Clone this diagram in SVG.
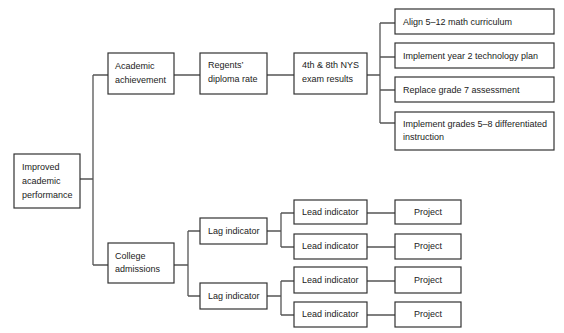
<svg xmlns="http://www.w3.org/2000/svg" width="564" height="333" viewBox="0 0 564 333">
<style>
.box{fill:#fff;stroke:#333;stroke-width:1.2}
.ln{fill:none;stroke:#555;stroke-width:1.3}
text{font-family:"Liberation Sans",Arial,sans-serif;font-size:9px;fill:#222}
.c{text-anchor:middle}
</style>
<rect width="564" height="333" fill="#fff"/>
<g id="connectors">
<path class="ln" d="M80,179H93M93,75V265M93,75H108M93,265H108"/>
<path class="ln" d="M174,75H200M267,75H294"/>
<path class="ln" d="M367,75H380M380,23V123M380,23H395M380,57H395M380,90H395M380,123H395"/>
<path class="ln" d="M174,265H188M188,231V296M188,231H200M188,296H200"/>
<path class="ln" d="M267,231H281M281,213V247M281,213H294M281,247H294"/>
<path class="ln" d="M267,296H281M281,281V315M281,281H294M281,315H294"/>
<path class="ln" d="M367,213H395M367,247H395M367,281H395M367,315H395"/>
</g>
<g id="n-root"><rect class="box" x="14" y="154" width="66" height="54"/><text x="22" y="170">Improved</text><text x="22" y="184">academic</text><text x="22" y="198">performance</text></g>
<g id="n-academic"><rect class="box" x="108" y="53" width="66" height="41"/><text x="115" y="69">Academic</text><text x="115" y="83">achievement</text></g>
<g id="n-regents"><rect class="box" x="200" y="53" width="67" height="41"/><text x="208" y="68">Regents’</text><text x="208" y="82">diploma rate</text></g>
<g id="n-exam"><rect class="box" x="294" y="53" width="73" height="41"/><text x="302" y="68">4th &amp; 8th NYS</text><text x="302" y="82">exam results</text></g>
<g id="n-p1"><rect class="box" x="395" y="9" width="159" height="25"/><text x="403" y="25">Align 5–12 math curriculum</text></g>
<g id="n-p2"><rect class="box" x="395" y="43" width="159" height="25"/><text x="403" y="59">Implement year 2 technology plan</text></g>
<g id="n-p3"><rect class="box" x="395" y="77" width="159" height="25"/><text x="403" y="93">Replace grade 7 assessment</text></g>
<g id="n-p4"><rect class="box" x="395" y="112" width="159" height="38"/><text x="403" y="127">Implement grades 5–8 differentiated</text><text x="403" y="140">instruction</text></g>
<g id="n-college"><rect class="box" x="108" y="243" width="66" height="40"/><text x="115" y="259">College</text><text x="115" y="272">admissions</text></g>
<g id="n-lag1"><rect class="box" x="200" y="218" width="67" height="26"/><text x="208" y="234">Lag indicator</text></g>
<g id="n-lag2"><rect class="box" x="200" y="283" width="67" height="26"/><text x="208" y="299">Lag indicator</text></g>
<g id="n-lead1"><rect class="box" x="294" y="200" width="73" height="24"/><text x="302" y="215">Lead indicator</text></g>
<g id="n-lead2"><rect class="box" x="294" y="234" width="73" height="25"/><text x="302" y="249">Lead indicator</text></g>
<g id="n-lead3"><rect class="box" x="294" y="267" width="73" height="26"/><text x="302" y="283">Lead indicator</text></g>
<g id="n-lead4"><rect class="box" x="294" y="302" width="73" height="25"/><text x="302" y="317">Lead indicator</text></g>
<g id="n-proj1"><rect class="box" x="395" y="200" width="66" height="24"/><text class="c" x="428" y="215">Project</text></g>
<g id="n-proj2"><rect class="box" x="395" y="234" width="66" height="25"/><text class="c" x="428" y="249">Project</text></g>
<g id="n-proj3"><rect class="box" x="395" y="267" width="66" height="26"/><text class="c" x="428" y="283">Project</text></g>
<g id="n-proj4"><rect class="box" x="395" y="302" width="66" height="25"/><text class="c" x="428" y="317">Project</text></g>
</svg>
